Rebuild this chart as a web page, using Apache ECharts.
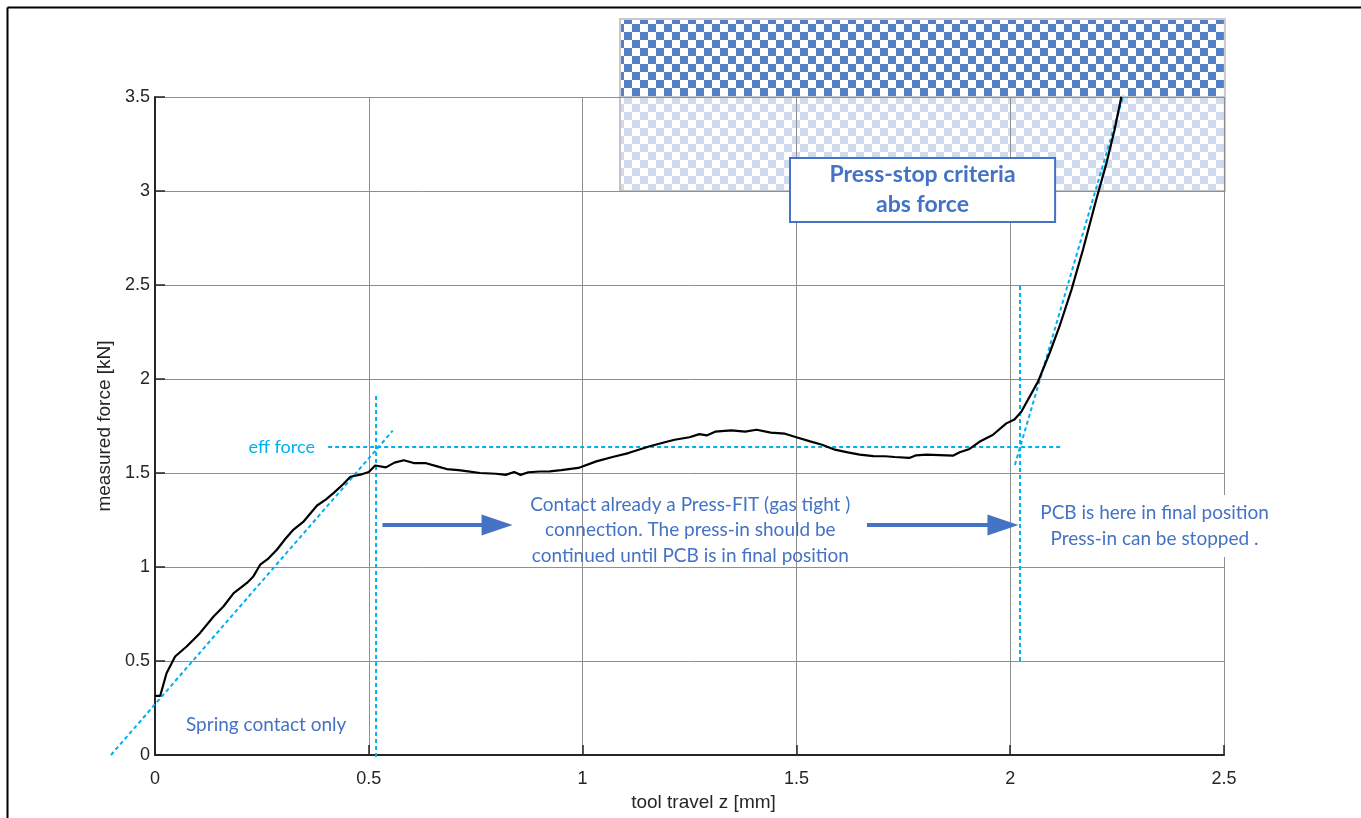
<!DOCTYPE html>
<html>
<head>
<meta charset="utf-8">
<title>Press-fit force curve</title>
<script src="https://cdn.jsdelivr.net/npm/echarts@6/dist/echarts.min.js"></script>
<style>
  html, body { margin: 0; padding: 0; background: #fff; }
  #main { width: 1361px; height: 818px; }
</style>
</head>
<body>
<div id="main"></div>
<script>
// measured force curve
const travel = [0, 0.012, 0.027, 0.047, 0.074, 0.105, 0.137, 0.16, 0.184, 0.215,
  0.23, 0.246, 0.265, 0.285, 0.305, 0.324, 0.348, 0.379, 0.4, 0.418,
  0.44, 0.457, 0.48, 0.5, 0.515, 0.54, 0.56, 0.582, 0.605, 0.632,
  0.66, 0.682, 0.71, 0.732, 0.76, 0.798, 0.82, 0.84, 0.855, 0.873,
  0.9, 0.923, 0.95, 0.99, 1.032, 1.07, 1.107, 1.157, 1.19, 1.215,
  1.25, 1.273, 1.29, 1.31, 1.348, 1.38, 1.407, 1.44, 1.473, 1.5,
  1.532, 1.56, 1.59, 1.62, 1.648, 1.68, 1.707, 1.73, 1.764, 1.78,
  1.804, 1.866, 1.882, 1.905, 1.928, 1.959, 1.991, 2.01, 2.026, 2.065,
  2.092, 2.115, 2.143, 2.17, 2.201, 2.225, 2.244, 2.26]
const force = [0.314, 0.314, 0.435, 0.524, 0.577, 0.648, 0.737, 0.79, 0.861, 0.915,
  0.95, 1.012, 1.045, 1.092, 1.15, 1.199, 1.243, 1.327, 1.36, 1.394,
  1.44, 1.48, 1.491, 1.505, 1.54, 1.53, 1.555, 1.568, 1.553, 1.553,
  1.535, 1.521, 1.515, 1.509, 1.5, 1.496, 1.49, 1.505, 1.49, 1.504,
  1.508, 1.509, 1.515, 1.527, 1.562, 1.585, 1.606, 1.642, 1.662, 1.677,
  1.69, 1.707, 1.7, 1.72, 1.727, 1.72, 1.73, 1.715, 1.709, 1.69,
  1.668, 1.65, 1.624, 1.61, 1.598, 1.59, 1.589, 1.585, 1.58, 1.594,
  1.598, 1.592, 1.61, 1.628, 1.666, 1.702, 1.764, 1.785, 1.826, 1.986,
  2.137, 2.278, 2.473, 2.686, 2.952, 3.147, 3.324, 3.501]

// dotted construction lines, data space
const springSlope = [[-0.103, 0], [0.556, 1.725]]
const effForceLine = [[0.405, 1.638], [2.117, 1.638]]
const contactLine = [[0.517, -0.01], [0.517, 1.915]]
const finalLine = [[2.023, 0.5], [2.023, 2.5]]
const finalSlope = [[2.011, 1.543], [2.265, 3.51]]

// arrows (end = centre of the head)
const arrowOne = [[0.532, 1.223], [0.8, 1.223]]
const arrowTwo = [[1.665, 1.223], [1.983, 1.223]]

// press-stop zones
const stopZone = [1.0875, 2.502]
const stopLow = [3.0, 3.5]
const stopHigh = [3.5, 3.915]

const chart = echarts.init(document.getElementById('main'))

const guideStyle = { color: '#00b0f0', width: 2, type: [4, 3] }

function guide (pts) {
  return {
    type: 'line',
    data: pts,
    symbol: 'none',
    clip: false,
    silent: true,
    z: 4,
    lineStyle: guideStyle
  }
}

function checker (color, size) {
  const c = document.createElement('canvas')
  c.width = c.height = size * 2
  const ctx = c.getContext('2d')
  ctx.fillStyle = '#fff'
  ctx.fillRect(0, 0, size * 2, size * 2)
  ctx.fillStyle = color
  ctx.fillRect(0, 0, size, size)
  ctx.fillRect(size, size, size, size)
  return c
}

const axisCol = '#262626'
const gridCol = '#8f8f8f'

chart.setOption({
  animation: false,
  backgroundColor: '#fff',
  grid: { left: 155, right: 137, top: 97, bottom: 63 },
  xAxis: {
    type: 'value',
    min: 0,
    max: 2.5,
    interval: 0.5,
    name: 'tool travel z [mm]',
    nameLocation: 'middle',
    nameGap: 33,
    nameTextStyle: { color: axisCol, fontFamily: 'Liberation Sans', fontSize: 19, padding: [0, 0, 0, 28] },
    axisLine: { lineStyle: { color: axisCol, width: 2 } },
    axisTick: { inside: true, length: 10, lineStyle: { color: axisCol, width: 1.5 } },
    axisLabel: { color: axisCol, fontFamily: 'Liberation Sans', fontSize: 18, margin: 15 },
    splitLine: { show: true, lineStyle: { color: gridCol, width: 1 } }
  },
  yAxis: {
    type: 'value',
    min: 0,
    max: 3.5,
    interval: 0.5,
    name: 'measured force [kN]',
    nameLocation: 'middle',
    nameGap: 38,
    nameTextStyle: { color: axisCol, fontFamily: 'Liberation Sans', fontSize: 19 },
    axisLine: { show: true, lineStyle: { color: axisCol, width: 2 } },
    axisTick: { show: true, inside: true, length: 10, lineStyle: { color: axisCol, width: 1.5 } },
    axisLabel: { color: axisCol, fontFamily: 'Liberation Sans', fontSize: 18, margin: 5 },
    splitLine: { show: true, lineStyle: { color: gridCol, width: 1 } }
  },
  series: [
    {
      name: 'force',
      type: 'line',
      data: travel.map((x, i) => [x, force[i]]),
      symbol: 'none',
      clip: false,
      z: 6,
      lineStyle: { color: '#000', width: 2.2 },
      markLine: {
        silent: true,
        symbol: ['none', 'triangle'],
        symbolSize: [21, 31],
        label: { show: false },
        emphasis: { disabled: true },
        lineStyle: { color: '#4472c4', width: 4, type: 'solid' },
        data: [
          [{ coord: arrowOne[0] }, { coord: arrowOne[1] }],
          [{ coord: arrowTwo[0] }, { coord: arrowTwo[1] }]
        ]
      }
    },
    guide(effForceLine),
    guide(contactLine),
    guide(finalLine),
    guide(finalSlope)
  ]
})

// annotations placed through the grid's own scale
const px = (x, y) => chart.convertToPixel({ gridIndex: 0 }, [x, y])
const lowA = px(stopZone[0], stopLow[1])
const lowB = px(stopZone[1], stopLow[0])
const highA = px(stopZone[0], stopHigh[1])
const highB = px(stopZone[1], stopHigh[0])
const boxA = px(1.485, 3.176)
const boxB = px(2.105, 2.835)
const effPos = px(0.374, 1.638)
const springPos = px(0.0725, 0.16)
const midPos = px(1.252, 1.197)
const pcbPos = px(2.3375, 1.218)
const slopeA = px(springSlope[0][0], springSlope[0][1])
const slopeB = px(springSlope[1][0], springSlope[1][1])
const txtFont = 'Lato, "Open Sans", sans-serif'

chart.setOption({
  graphic: [
    { type: 'line', shape: { x1: 7.5, y1: 7.5, x2: 1361, y2: 7.5 }, style: { stroke: '#000', lineWidth: 2 }, z: 100 },
    { type: 'line', shape: { x1: 7.5, y1: 7.5, x2: 7.5, y2: 818 }, style: { stroke: '#000', lineWidth: 2 }, z: 100 },
    {
      // spring slope runs past the y axis, so it is drawn outside the grid clip
      type: 'line',
      z: 4,
      silent: true,
      shape: { x1: slopeA[0], y1: slopeA[1], x2: slopeB[0], y2: slopeB[1] },
      style: { stroke: guideStyle.color, lineWidth: 2, lineDash: [4, 3] }
    },
    {
      type: 'rect',
      z: -1,
      silent: true,
      shape: { x: lowA[0], y: lowA[1], width: lowB[0] - lowA[0], height: lowB[1] - lowA[1] },
      style: { fill: { image: checker('#d0dbef', 8), repeat: 'repeat' }, stroke: '#c4c4c4', lineWidth: 2 }
    },
    {
      type: 'rect',
      z: -1,
      silent: true,
      shape: { x: highA[0], y: highA[1], width: highB[0] - highA[0], height: highB[1] - highA[1] },
      style: { fill: { image: checker('#5580c8', 8), repeat: 'repeat' }, stroke: '#c8c8c8', lineWidth: 2 }
    },
    {
      type: 'rect',
      z: 50,
      silent: true,
      shape: { x: boxA[0], y: boxA[1], width: boxB[0] - boxA[0], height: boxB[1] - boxA[1] },
      style: { fill: '#fff', stroke: '#4472c4', lineWidth: 2 }
    },
    {
      type: 'text',
      z: 51,
      silent: true,
      x: (boxA[0] + boxB[0]) / 2,
      y: (boxA[1] + boxB[1]) / 2,
      style: {
        text: 'Press-stop criteria\nabs force',
        fill: '#4472c4',
        font: 'bold 23px ' + txtFont,
        align: 'center',
        verticalAlign: 'middle',
        lineHeight: 30
      }
    },
    {
      type: 'text',
      z: 51,
      silent: true,
      x: effPos[0],
      y: effPos[1],
      style: { text: 'eff force', fill: '#00b0f0', font: '18px ' + txtFont, align: 'right', verticalAlign: 'middle' }
    },
    {
      type: 'text',
      z: 51,
      silent: true,
      x: springPos[0],
      y: springPos[1],
      style: { text: 'Spring contact only', fill: '#4472c4', font: '19px ' + txtFont, align: 'left', verticalAlign: 'middle' }
    },
    {
      type: 'text',
      z: 51,
      silent: true,
      x: midPos[0],
      y: midPos[1],
      style: {
        text: 'Contact already a Press-FIT (gas tight )\nconnection. The press-in should be\ncontinued until PCB is in final position',
        fill: '#4472c4',
        font: '19px ' + txtFont,
        align: 'center',
        verticalAlign: 'middle',
        lineHeight: 25.5
      }
    },
    {
      type: 'text',
      z: 51,
      silent: true,
      x: pcbPos[0],
      y: pcbPos[1],
      style: {
        text: 'PCB is here in final position\nPress-in can be stopped .',
        fill: '#4472c4',
        font: '19px ' + txtFont,
        align: 'center',
        verticalAlign: 'middle',
        lineHeight: 26,
        backgroundColor: '#fff',
        padding: [5, 6, 5, 6]
      }
    }
  ]
})
</script>
</body>
</html>
